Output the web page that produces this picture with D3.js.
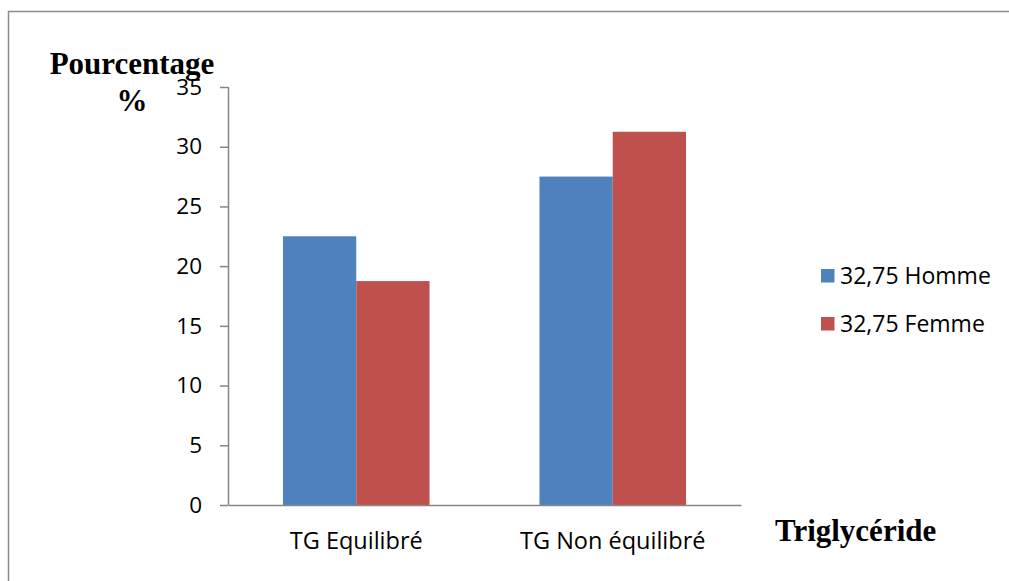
<!DOCTYPE html>
<html>
<head>
<meta charset="utf-8">
<script src="https://cdn.jsdelivr.net/npm/d3@7"></script>
<style>
  html, body { margin: 0; padding: 0; background: #fff; }
  svg { display: block; }
</style>
</head>
<body>
<svg id="chart" width="1009" height="581"></svg>
<script>
// Triglyceride balance by sex (%)
const categories = ["TG Equilibré", "TG Non équilibré"];
const seriesNames = ["32,75 Homme", "32,75 Femme"];
const hommeValues = [22.5, 27.5];
const femmeValues = [18.75, 31.25];
const yTicks = [0, 5, 10, 15, 20, 25, 30, 35];
const seriesColors = ["#4F81BD", "#C0504D"];

const svg = d3.select("#chart");
const W = 1009, H = 581;

// outer frame (top and left edges visible)
svg.append("rect")
  .attr("x", 8.5).attr("y", 11.5)
  .attr("width", W + 20).attr("height", H + 20)
  .attr("fill", "none").attr("stroke", "#8c8c8c").attr("stroke-width", 1.5);

const plot = { left: 228, right: 741, top: 87, bottom: 505 };

const x0 = d3.scaleBand().domain(categories)
  .range([plot.left, plot.right]).paddingInner(0).paddingOuter(0);
const bandW = x0.bandwidth();
const barW = bandW / 3.5; // gap width 150%
const x1 = d3.scaleBand().domain(seriesNames).range([0, barW * 2]);

const y = d3.scaleLinear().domain([0, 35]).range([plot.bottom, plot.top]);

const rows = categories.map((c, i) => ({ cat: c, vals: [hommeValues[i], femmeValues[i]] }));

const axisColor = "#868686";
const tickFont = "'Open Sans', sans-serif";
const tickSize = "22.5px";

// y axis
const yAxis = d3.axisLeft(y).tickValues(yTicks).tickSize(8).tickPadding(18);
const gy = svg.append("g").attr("transform", `translate(${plot.left},0)`).call(yAxis);
gy.select(".domain").attr("stroke", axisColor).attr("stroke-width", 1.5)
  .attr("d", `M0.5,${plot.top}V${plot.bottom}`);
gy.selectAll(".tick line").attr("stroke", axisColor).attr("stroke-width", 1.5);
gy.selectAll(".tick text").attr("fill", "#000").style("font-family", tickFont).style("font-size", tickSize);

// bars
const groups = svg.append("g").selectAll("g").data(rows).join("g")
  .attr("transform", d => `translate(${x0(d.cat) + (bandW - barW * 2) / 2},0)`);
groups.selectAll("rect").data(d => d.vals.map((v, k) => ({ v, k })))
  .join("rect")
  .attr("x", d => x1(seriesNames[d.k]))
  .attr("y", d => y(d.v))
  .attr("width", x1.bandwidth())
  .attr("height", d => y(0) - y(d.v))
  .attr("fill", d => seriesColors[d.k]);

// x axis
const xAxis = d3.axisBottom(x0).tickSize(0).tickPadding(27);
const gx = svg.append("g").attr("transform", `translate(0,${plot.bottom})`).call(xAxis);
gx.select(".domain").attr("stroke", axisColor).attr("stroke-width", 1.5);
gx.selectAll(".tick text").attr("fill", "#000").style("font-family", tickFont).style("font-size", "23.5px");

// axis titles
const titleFont = "'Liberation Serif', 'Times New Roman', serif";
svg.append("text").attr("x", 132).attr("y", 74).attr("text-anchor", "middle")
  .style("font-family", titleFont).style("font-weight", "bold").style("font-size", "31px")
  .text("Pourcentage");
svg.append("text").attr("x", 132).attr("y", 111).attr("text-anchor", "middle")
  .style("font-family", titleFont).style("font-weight", "bold").style("font-size", "31px")
  .text("%");
svg.append("text").attr("x", 775).attr("y", 541)
  .style("font-family", titleFont).style("font-weight", "bold").style("font-size", "31px")
  .text("Triglycéride");

// legend
const legend = svg.append("g").selectAll("g").data(seriesNames).join("g")
  .attr("transform", (d, i) => `translate(821,${269 + i * 48})`);
legend.append("rect").attr("width", 13.5).attr("height", 13.5)
  .attr("fill", (d, i) => seriesColors[i]);
legend.append("text").attr("x", 19).attr("y", 14.5)
  .style("font-family", tickFont).style("font-size", "23px")
  .text(d => d);
</script>
</body>
</html>
